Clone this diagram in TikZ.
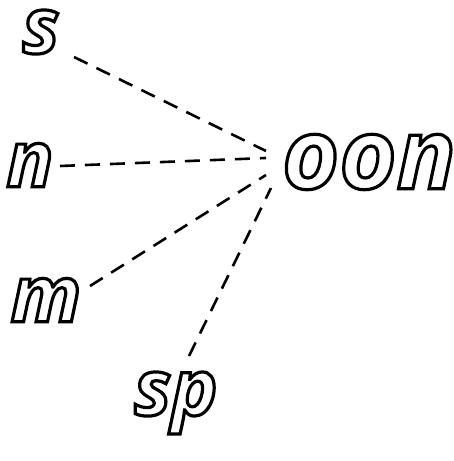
\documentclass[tikz,border=0pt]{standalone}
\usepackage{fontspec}
\setmainfont{Open Sans}
\newcommand\hollow[1]{\special{pdf:literal direct 1 Tr 3.2 w}#1\special{pdf:literal direct 0 Tr}}
\tikzset{
  letters/.style={inner sep=0pt, font=\fontsize{78}{78}\selectfont\bfseries\itshape},
  big/.style={letters, font=\fontsize{98}{98}\selectfont\bfseries\itshape},
  link/.style={dashed, line width=2.6pt, dash pattern=on 15pt off 10pt}
}
\begin{document}
\begin{tikzpicture}[x=1pt,y=-1pt]
\useasboundingbox (0,0) rectangle (453,461);
\node[letters] (s) at (41,32) {\hollow{s}};
\node[letters] (n) at (30,165) {\hollow{n}};
\node[letters] (m) at (46,300) {\hollow{m}};
\node[letters] (sp) at (176,403) {\hollow{sp}};
\node[big] (oon) at (369,162) {\hollow{oon}};
\coordinate (hs) at (266,151);
\coordinate (hn) at (266,158);
\coordinate (hm) at (266,175);
\coordinate (hsp) at (271,188);
\coordinate (ts) at (74,57);
\coordinate (tn) at (60,166);
\coordinate (tm) at (90,286);
\coordinate (tsp) at (189,356);
\draw[link] (ts) -- (hs);
\draw[link] (tn) -- (hn);
\draw[link] (tm) -- (hm);
\draw[link] (tsp) -- (hsp);
\end{tikzpicture}
\end{document}
